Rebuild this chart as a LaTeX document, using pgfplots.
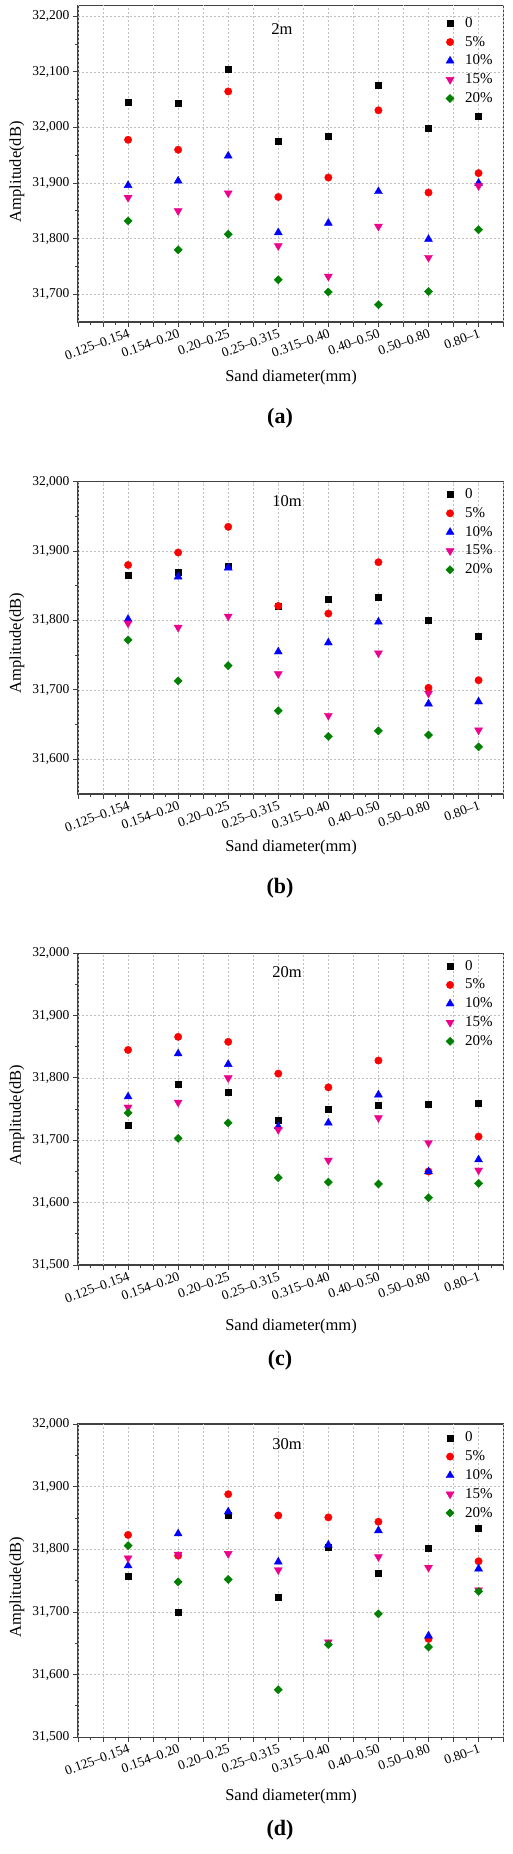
\documentclass[border=0pt]{standalone}
\usepackage{fontspec}
\setmainfont{Liberation Serif}
\usepackage{pgfplots}
\usepackage{pgfplotstable}
\pgfplotsset{compat=1.18}
\definecolor{cgreen}{RGB}{0,128,0}

% panel (a) 2m
\pgfplotstableread{
x s0 s5 s10 s15 s20
1 32045 31978 31896 31874 31832
2 32043 31960 31904 31850 31780
3 32105 32065 31949 31882 31808
4 31975 31875 31811 31787 31726
5 31985 31910 31828 31732 31704
6 32076 32031 31885 31822 31681
7 31999 31883 31799 31766 31705
8 32020 31918 31900 31895 31816
}\dataA
% panel (b) 10m
\pgfplotstableread{
x s0 s5 s10 s15 s20
1 31865 31880 31802 31796 31772
2 31869 31898 31863 31790 31713
3 31878 31935 31876 31806 31735
4 31820 31821 31755 31723 31670
5 31830 31810 31768 31663 31633
6 31834 31884 31798 31753 31641
7 31800 31703 31680 31695 31635
8 31778 31714 31683 31642 31618
}\dataB
% panel (c) 20m
\pgfplotstableread{
x s0 s5 s10 s15 s20
1 31725 31845 31770 31753 31744
2 31790 31866 31839 31761 31703
3 31778 31858 31822 31800 31728
4 31733 31807 31722 31717 31640
5 31750 31785 31728 31668 31633
6 31756 31828 31773 31736 31630
7 31758 31650 31650 31696 31608
8 31759 31706 31669 31652 31631
}\dataC
% panel (d) 30m
\pgfplotstableread{
x s0 s5 s10 s15 s20
1 31757 31823 31774 31786 31806
2 31699 31790 31825 31792 31748
3 31855 31888 31860 31793 31752
4 31723 31854 31780 31767 31576
5 31803 31851 31807 31652 31648
6 31762 31844 31830 31788 31697
7 31802 31657 31662 31771 31644
8 31833 31781 31769 31735 31733
}\dataD

\pgfplotsset{
  panel/.style={
    scale only axis, width=425.6pt, anchor=south west,
    xmin=0, xmax=8.5,
    xtick={1,2,3,4,5,6,7,8},
    xticklabels={0.125–0.154,0.154–0.20,0.20–0.25,0.25–0.315,0.315–0.40,0.40–0.50,0.50–0.80,0.80–1},
    extra x ticks={0,0.5,1.5,2.5,3.5,4.5,5.5,6.5,7.5,8.5},
    extra x tick labels={},
    extra x tick style={grid=major},
    minor xtick={0.25,0.75,1.25,1.75,2.25,2.75,3.25,3.75,4.25,4.75,5.25,5.75,6.25,6.75,7.25,7.75,8.25},
    minor y tick num=1,
    tick align=outside, tick pos=left,
    major tick length=5pt, minor tick length=3pt,
    grid=major,
    major grid style={dash pattern=on 2pt off 2pt, line width=0.5pt, black!25},
    axis line style={line width=1.1pt, black!75},
    every tick/.style={line width=1pt, black!75},
    x tick label style={rotate=20, anchor=north east, font=\fontsize{13.5}{14}\selectfont, inner sep=1pt},
    scaled y ticks=false,
    y tick label style={font=\fontsize{13.5}{14}\selectfont,
      /pgf/number format/fixed, /pgf/number format/1000 sep={,},
      /pgf/number format/assume math mode=true},
    only marks,
    legend cell align=left,
    legend image code/.code={\path[draw=none,fill=none] (-5pt,-6pt) rectangle (15pt,6pt);
      \draw[#1] plot coordinates {(0pt,0pt)};},
    legend style={draw=none, fill=none, anchor=north west, inner sep=0pt,
      font=\fontsize{15}{18}\selectfont, row sep=4.8pt,
      nodes={inner sep=0pt, text height=11pt, text depth=3pt}},
    cycle list={
      {black, mark=square*, mark size=3pt},
      {red, mark=*, mark size=3.7pt},
      {blue, mark=triangle*, mark size=4.6pt},
      {magenta, mark=triangle*, mark size=4.6pt, mark options={rotate=180}},
      {cgreen, mark=square*, mark size=2.9pt, mark options={rotate=45}}
    },
  }
}

\newcommand{\series}[1]{%
  \addplot table[x=x,y=s0]{#1};
  \addplot table[x=x,y=s5]{#1};
  \addplot table[x=x,y=s10]{#1};
  \addplot table[x=x,y=s15]{#1};
  \addplot table[x=x,y=s20]{#1};
  \legend{0,5\%,10\%,15\%,20\%}
}

\begin{document}
\begin{tikzpicture}[x=1pt,y=1pt]
\useasboundingbox (0,0) rectangle (513,-1854);

\begin{axis}[panel, at={(78pt,-322pt)}, height=316.7pt,
  ymin=31650, ymax=32220, ytick={31700,31800,31900,32000,32100,32200},
  legend style={at={(0.862,0.966)}}]
\series{\dataA}
\end{axis}

\begin{axis}[panel, at={(78pt,-794pt)}, height=312.3pt,
  ymin=31550, ymax=32000, ytick={31600,31700,31800,31900,32000},
  legend style={at={(0.862,0.982)}}]
\series{\dataB}
\end{axis}

\begin{axis}[panel, at={(78pt,-1265pt)}, height=311.7pt,
  ymin=31500, ymax=32000, ytick={31500,31600,31700,31800,31900,32000},
  legend style={at={(0.862,0.982)}}]
\series{\dataC}
\end{axis}

\begin{axis}[panel, at={(78pt,-1737.3pt)}, height=313.3pt,
  ymin=31500, ymax=32000, ytick={31500,31600,31700,31800,31900,32000},
  legend style={at={(0.862,0.979)}}]
\series{\dataD}
\end{axis}

\tikzset{lab/.style={font=\fontsize{16.5}{18}\selectfont, inner sep=0pt},
         subcap/.style={font=\fontsize{22}{24}\selectfont\bfseries, inner sep=0pt}}
\node[lab] at (282,-29) {2m};
\node[lab] at (287,-501) {10m};
\node[lab] at (287,-971.7) {20m};
\node[lab] at (287,-1444) {30m};

\node[lab, rotate=90] at (17,-171.7) {Amplitude(dB)};
\node[lab, rotate=90] at (17,-643) {Amplitude(dB)};
\node[lab, rotate=90] at (17,-1115) {Amplitude(dB)};
\node[lab, rotate=90] at (17,-1587) {Amplitude(dB)};

\node[lab] at (291,-378) {Sand diameter(mm)};
\node[lab] at (291,-848) {Sand diameter(mm)};
\node[lab] at (291,-1327) {Sand diameter(mm)};
\node[lab] at (291,-1797) {Sand diameter(mm)};

\node[subcap] at (280,-418) {(a)};
\node[subcap] at (280,-888) {(b)};
\node[subcap] at (280,-1360) {(c)};
\node[subcap] at (280,-1830) {(d)};
\end{tikzpicture}
\end{document}
